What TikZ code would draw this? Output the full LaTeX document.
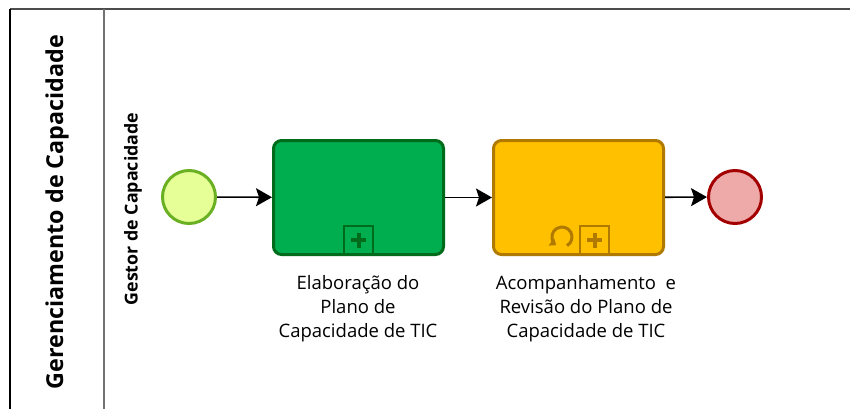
\documentclass[tikz,border=0pt]{standalone}
\usepackage{fontspec}
\setmainfont{Open Sans}
\usetikzlibrary{arrows.meta}

\definecolor{startfill}{HTML}{E6FF97}
\definecolor{startline}{HTML}{6AB023}
\definecolor{endfill}{HTML}{EEA9A9}
\definecolor{endline}{HTML}{A30000}
\definecolor{greenfill}{HTML}{00AD4F}
\definecolor{greenline}{HTML}{006B1B}
\definecolor{yellowfill}{HTML}{FFC000}
\definecolor{yellowline}{HTML}{B07A00}

\tikzset{
  event/.style={circle, minimum size=53pt, inner sep=0pt, line width=3pt},
  task/.style={rectangle, rounded corners=8pt, minimum width=170pt, minimum height=114pt, inner sep=0pt, line width=3pt},
  marker/.style={rectangle, minimum size=29pt, inner sep=0pt, line width=2.5pt},
  tasklabel/.style={align=center, font=\fontsize{18.5}{24}\selectfont},
  flow/.style={line width=1.6pt, -{Stealth[length=16pt, width=18pt, inset=3pt]}}
}

\begin{document}
\begin{tikzpicture}[x=1pt, y=-1pt]
  \useasboundingbox (0,0) rectangle (850,409);
  % Specify the pool and the lane:
  \draw[line width=2pt, black!70] (10,9) -- (850,9);
  \draw[line width=2pt] (10,9) -- (10,409);
  \draw[line width=1.5pt, black!55] (104,9) -- (104,409);
  \node[rotate=90, font=\bfseries\fontsize{23.3}{26}\selectfont] (pool) at (57,212) {Gerenciamento de Capacidade};
  \node[rotate=90, font=\bfseries\fontsize{17.8}{20}\selectfont] (lane) at (133,209) {Gestor de Capacidade};
  % Specify the events and the tasks:
  \node[event, draw=startline, fill=startfill] (start) at (189,197) {};
  \node[task, draw=greenline, fill=greenfill] (plan) at (358.5,197.5) {};
  \node[task, draw=yellowline, fill=yellowfill] (review) at (578.5,197.5) {};
  \node[event, draw=endline, fill=endfill] (end) at (735,197) {};
  % Specify the sub-process markers:
  \node[marker, draw=greenline, anchor=south] (planmark) at (plan.south) {};
  \draw[greenline, line width=4pt] ([yshift=-7.5pt]planmark.center) -- ([yshift=7.5pt]planmark.center)
    ([xshift=-7.5pt]planmark.center) -- ([xshift=7.5pt]planmark.center);
  \node[marker, draw=yellowline, anchor=south] (reviewmark) at ([xshift=16pt]review.south) {};
  \draw[yellowline, line width=4pt] ([yshift=-7.5pt]reviewmark.center) -- ([yshift=7.5pt]reviewmark.center)
    ([xshift=-7.5pt]reviewmark.center) -- ([xshift=7.5pt]reviewmark.center);
  \coordinate (loop) at (562,237);
  \draw[yellowline, line width=3pt, -{Triangle[length=6pt, width=9pt]}]
    ([shift={(60:10)}]loop) arc (60:-235:10);
  % Specify the labels below the tasks:
  \node[tasklabel, anchor=north] (planlabel) at (358,272) {Elaboração do\\Plano de\\Capacidade de TIC};
  \node[tasklabel, anchor=north] (reviewlabel) at (586,272) {Acompanhamento\ \ e\\Revisão do Plano de\\Capacidade de TIC};
  % Draw the sequence flows:
  \draw[flow] (start) -- (plan);
  \draw[flow] (plan) -- (review);
  \draw[flow] (review) -- (end);
\end{tikzpicture}
\end{document}
